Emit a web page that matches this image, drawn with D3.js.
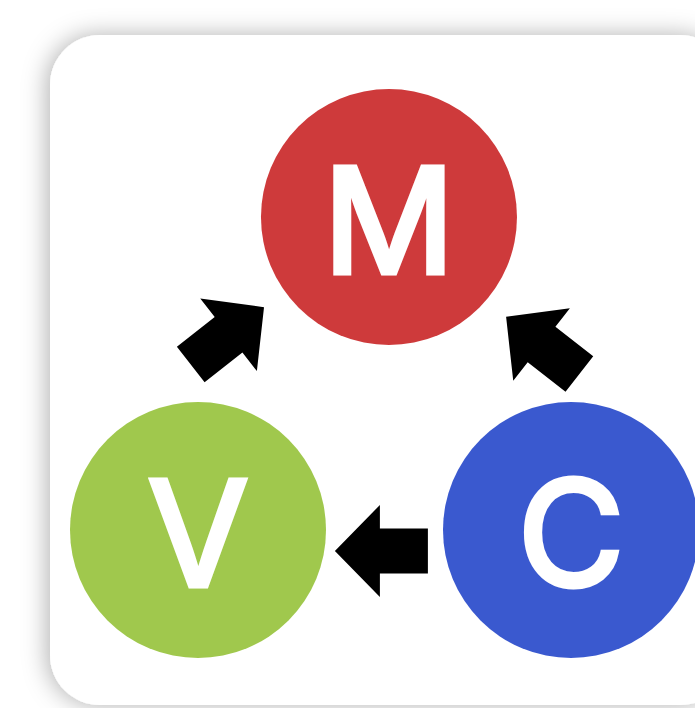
<!DOCTYPE html>
<html>
<head>
<meta charset="utf-8">
<script src="https://cdn.jsdelivr.net/npm/d3@7"></script>
<style>
  html, body { margin: 0; padding: 0; background: #fff; overflow: hidden; }
  svg { display: block; }
</style>
</head>
<body>
<div id="container"></div>
<script>
const width = 695
const height = 708

// nodes of the triangle, in logical grid units
const labels = ["M", "V", "C"]
const colors = ["#ce3a3b", "#a0c84d", "#3a59cf"]
const nodeCol = [0.512, 0, 1]
const nodeRow = [0, 1, 1]

// arrows: tip position (grid units) and heading in degrees
const arrowCol = [0.177, 0.367, 0.826]
const arrowRow = [0.288, 1.067, 0.319]
const arrowAngle = [-38, 180, -142]

const radius = 128

const svg = d3.select("#container")
  .append("svg")
  .attr("width", width)
  .attr("height", height)

const x = d3.scaleLinear().domain([0, 1]).range([198, 571])
const y = d3.scaleLinear().domain([0, 1]).range([217, 530])

// soft shadow round the card
const defs = svg.append("defs")
const filter = defs.append("filter")
  .attr("id", "shadow")
  .attr("x", "-20%").attr("y", "-20%")
  .attr("width", "140%").attr("height", "140%")
filter.append("feDropShadow")
  .attr("dx", -3)
  .attr("dy", 0)
  .attr("stdDeviation", 12)
  .attr("flood-color", "#000")
  .attr("flood-opacity", 0.3)

svg.append("rect")
  .attr("x", 50)
  .attr("y", 35)
  .attr("width", 680)
  .attr("height", 670)
  .attr("rx", 50)
  .attr("fill", "#fff")
  .attr("filter", "url(#shadow)")

// block arrow pointing along +x with its tip at the origin
const arrowShape = [
  [0, 0], [-45, -46], [-45, -22.5], [-93, -22.5],
  [-93, 22.5], [-45, 22.5], [-45, 46]
]
const arrowPath = "M" + arrowShape.map(p => p.join(",")).join("L") + "Z"

svg.append("g")
  .selectAll("path")
  .data(arrowAngle)
  .join("path")
    .attr("d", arrowPath)
    .attr("fill", "#000")
    .attr("transform", (a, i) =>
      "translate(" + x(arrowCol[i]) + "," + y(arrowRow[i]) + ") rotate(" + a + ")")

const nodes = svg.append("g")
  .selectAll("g")
  .data(labels)
  .join("g")
    .attr("transform", (d, i) => "translate(" + x(nodeCol[i]) + "," + y(nodeRow[i]) + ")")

nodes.append("circle")
  .attr("r", radius)
  .attr("fill", (d, i) => colors[i])

// regular weight thickened a little with a stroke (semi-bold look)
nodes.append("text")
  .attr("text-anchor", "middle")
  .attr("y", 56)
  .attr("fill", "#fff")
  .attr("stroke", "#fff")
  .attr("stroke-width", 5)
  .style("font-family", "Inter, Lato, sans-serif")
  .style("font-weight", 400)
  .style("font-size", "146px")
  .text(d => d)
</script>
</body>
</html>
